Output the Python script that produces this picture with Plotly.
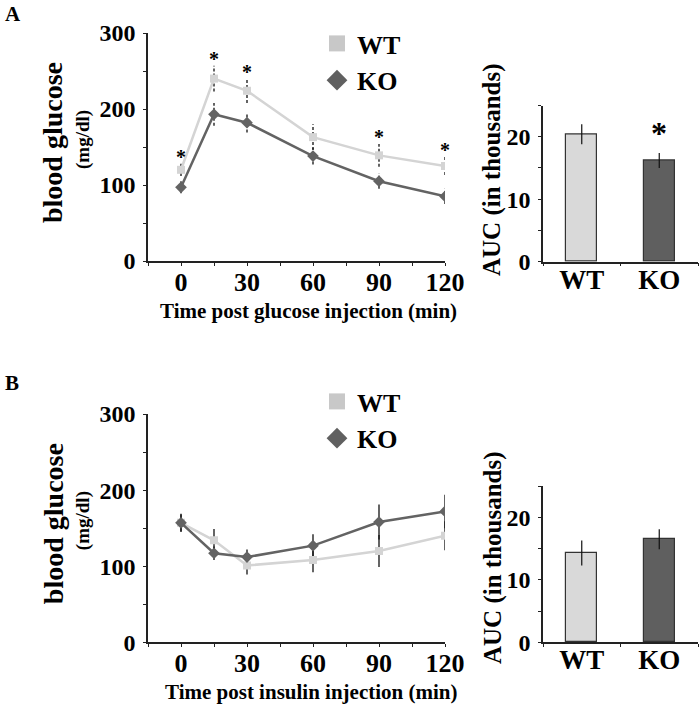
import plotly.graph_objects as go

# ---------------- data ----------------
time_min = [0, 15, 30, 60, 90, 120]
time_ticks = [0, 30, 60, 90, 120]

gtt_wt = [120, 240, 224, 163, 139, 125]
gtt_wt_err = [8, 17, 16, 17, 15, 12]
gtt_ko = [97, 193, 182, 138, 105, 85]
gtt_ko_err = [8, 15, 13, 11, 10, 10]
gtt_sig = [True, True, True, False, True, True]

itt_wt = [157, 134, 101, 108, 120, 140]
itt_wt_err = [11, 15, 12, 16, 21, 19]
itt_ko = [157, 117, 112, 127, 158, 172]
itt_ko_err = [12, 9, 10, 15, 23, 22]

groups = ["WT", "KO"]
auc_gtt = [20.4, 16.2]
auc_gtt_err = [1.6, 1.2]
auc_gtt_sig = [False, True]
auc_itt = [14.3, 16.5]
auc_itt_err = [2.0, 1.6]

glucose_ticks = [0, 100, 200, 300]
auc_ticks = [0, 10, 20]

# ---------------- style ----------------
W, H = 700, 705
FONT = "Liberation Serif"
WT_LINE = "#d4d4d4"
KO_LINE = "#636363"
WT_BAR = "#d9d9d9"
KO_BAR = "#5f5f5f"
AX = "#222222"


def px_x(p):
    return p / W


def px_y(p):
    return 1 - p / H


fig = go.Figure()


def err_segments(xs, ys, es):
    ex, ey = [], []
    for x, y, e in zip(xs, ys, es):
        ex += [x, x, None]
        ey += [y - e, y + e, None]
    return ex, ey


def add_curve_panel(xa, ya, wt, wte, ko, koe, dashed):
    for vals, errs in ((wt, wte), (ko, koe)):
        ex, ey = err_segments(time_min, vals, errs)
        fig.add_trace(go.Scatter(
            x=ex, y=ey, mode="lines", xaxis=xa, yaxis=ya, showlegend=False,
            hoverinfo="skip",
            line=dict(color="#111111", width=1.3, dash="3px,2px" if dashed else "solid"),
        ))
    fig.add_trace(go.Scatter(
        x=time_min, y=wt, mode="lines+markers", xaxis=xa, yaxis=ya, showlegend=False,
        line=dict(color=WT_LINE, width=2.5),
        marker=dict(symbol="square", size=8, color=WT_LINE),
    ))
    fig.add_trace(go.Scatter(
        x=time_min, y=ko, mode="lines+markers", xaxis=xa, yaxis=ya, showlegend=False,
        line=dict(color=KO_LINE, width=2.5),
        marker=dict(symbol="diamond", size=9, color=KO_LINE),
    ))


def add_bar_panel(xa, ya, vals, errs):
    fig.add_trace(go.Bar(
        x=groups, y=vals, xaxis=xa, yaxis=ya, width=0.4, showlegend=False,
        marker=dict(color=[WT_BAR, KO_BAR], line=dict(color="#333333", width=1.2)),
        error_y=dict(type="data", array=errs, color="#111111", thickness=1.2, width=0),
    ))


add_curve_panel("x", "y", gtt_wt, gtt_wt_err, gtt_ko, gtt_ko_err, True)
add_bar_panel("x2", "y2", auc_gtt, auc_gtt_err)
add_curve_panel("x3", "y3", itt_wt, itt_wt_err, itt_ko, itt_ko_err, False)
add_bar_panel("x4", "y4", auc_itt, auc_itt_err)

# legend entries
for leg in ("legend", "legend2"):
    fig.add_trace(go.Scatter(
        x=[None], y=[None], mode="markers", name="WT", legend=leg,
        xaxis="x" if leg == "legend" else "x3", yaxis="y" if leg == "legend" else "y3",
        marker=dict(symbol="square", size=20, color="#c8c8c8"),
    ))
    fig.add_trace(go.Scatter(
        x=[None], y=[None], mode="markers", name="KO", legend=leg,
        xaxis="x" if leg == "legend" else "x3", yaxis="y" if leg == "legend" else "y3",
        marker=dict(symbol="diamond", size=20, color="#606060"),
    ))

tickfont_big = dict(family=FONT, size=26, color="#000", weight="bold")
tickfont_y = dict(family=FONT, size=24, color="#000", weight="bold")


def line_xaxis(dom, anchor):
    return dict(domain=dom, anchor=anchor, range=[-15, 120], tickvals=time_ticks,
                showline=True, linecolor=AX, linewidth=1.5, ticks="outside",
                ticklen=3, tickcolor=AX, showgrid=False, zeroline=False,
                tickfont=tickfont_big, ticklabelstandoff=-6, automargin=False,
                minor=dict(dtick=15, tick0=0, ticks="outside", ticklen=3, tickcolor=AX))


def line_yaxis(dom, anchor):
    return dict(domain=dom, anchor=anchor, range=[0, 300], tickvals=glucose_ticks,
                showline=True, linecolor=AX, linewidth=1.5, ticks="outside",
                ticklen=3, tickcolor=AX, showgrid=False, zeroline=False,
                tickfont=tickfont_y, ticklabelstandoff=3, automargin=False,
                minor=dict(dtick=50, tick0=0, ticks="outside", ticklen=3, tickcolor=AX))


def bar_xaxis(dom, anchor):
    return dict(domain=dom, anchor=anchor, range=[-0.5, 1.5], type="category",
                showline=True, linecolor=AX, linewidth=1.5, ticks="outside",
                tickson="boundaries", ticklen=3, tickcolor=AX, showgrid=False,
                tickfont=dict(family=FONT, size=27, color="#000", weight="bold"),
                ticklabelstandoff=-7, automargin=False)


def bar_yaxis(dom, anchor):
    return dict(domain=dom, anchor=anchor, range=[0, 25], tickvals=auc_ticks,
                showline=True, linecolor=AX, linewidth=1.5, ticks="outside",
                ticklen=3, tickcolor=AX, showgrid=False, zeroline=False,
                tickfont=dict(family=FONT, size=24, color="#000", weight="bold"),
                ticklabelstandoff=3, automargin=False,
                minor=dict(dtick=5, tick0=0, ticks="outside", ticklen=3, tickcolor=AX))


LX = [px_x(148), px_x(445)]
BX = [px_x(543), px_x(698)]

legend_font = dict(family=FONT, size=26, color="#000", weight="bold")

fig.update_layout(
    width=W, height=H, margin=dict(l=0, r=0, t=0, b=0, pad=0, autoexpand=False),
    paper_bgcolor="white", plot_bgcolor="white",
    bargap=0,
    xaxis=line_xaxis(LX, "y"),
    yaxis=line_yaxis([px_y(261), px_y(33)], "x"),
    xaxis2=bar_xaxis(BX, "y2"),
    yaxis2=bar_yaxis([px_y(261.7), px_y(105.5)], "x2"),
    xaxis3=line_xaxis(LX, "y3"),
    yaxis3=line_yaxis([px_y(642.3), px_y(414)], "x3"),
    xaxis4=bar_xaxis(BX, "y4"),
    yaxis4=bar_yaxis([px_y(642.3), px_y(486)], "x4"),
    legend=dict(x=px_x(317), y=px_y(20), xanchor="left", yanchor="top",
                bgcolor="rgba(0,0,0,0)", itemsizing="trace", tracegroupgap=0,
                font=legend_font),
    legend2=dict(x=px_x(317), y=px_y(378), xanchor="left", yanchor="top",
                 bgcolor="rgba(0,0,0,0)", itemsizing="trace", tracegroupgap=0,
                 font=legend_font),
)

ann = []


def txt(x, y, s, size, angle=0, xanchor="center", yanchor="middle", xref="paper", yref="paper", yshift=0):
    ann.append(dict(x=x, y=y, text=s, xref=xref, yref=yref, showarrow=False,
                    textangle=angle, xanchor=xanchor, yanchor=yanchor, yshift=yshift,
                    font=dict(family=FONT, size=size, color="#000", weight="bold")))


# panel letters
txt(px_x(3), px_y(14), "A", 21, xanchor="left")
txt(px_x(3), px_y(383), "B", 21, xanchor="left")

# y titles
for top, bot in ((33, 261), (414, 642.3)):
    mid = (top + bot) / 2
    txt(px_x(53), px_y(mid - 4), "blood glucose", 28, angle=-90)
    txt(px_x(83), px_y(mid - 7), "(mg/dl)", 19, angle=-90)
txt(px_x(492), px_y(170), "AUC (in thousands)", 25, angle=-90)
txt(px_x(493), px_y(558), "AUC (in thousands)", 25, angle=-90)

# x titles
txt(px_x(308), px_y(311), "Time post glucose injection (min)", 21)
txt(px_x(311), px_y(692), "Time post insulin injection (min)", 21)

# significance asterisks
for t, v, e, s in zip(time_min, gtt_wt, gtt_wt_err, gtt_sig):
    if s:
        txt(t, v + e, "*", 20, xref="x", yref="y", yanchor="bottom", yshift=-6)
for g, v, e, s in zip(groups, auc_gtt, auc_gtt_err, auc_gtt_sig):
    if s:
        txt(g, v + e, "*", 32, xref="x2", yref="y2", yanchor="bottom", yshift=0)

fig.update_layout(annotations=ann)

fig.write_html(
    "out.html",
    config={"displayModeBar": False},
    post_script="document.body.style.margin='0';document.body.style.overflow='hidden';",
)
